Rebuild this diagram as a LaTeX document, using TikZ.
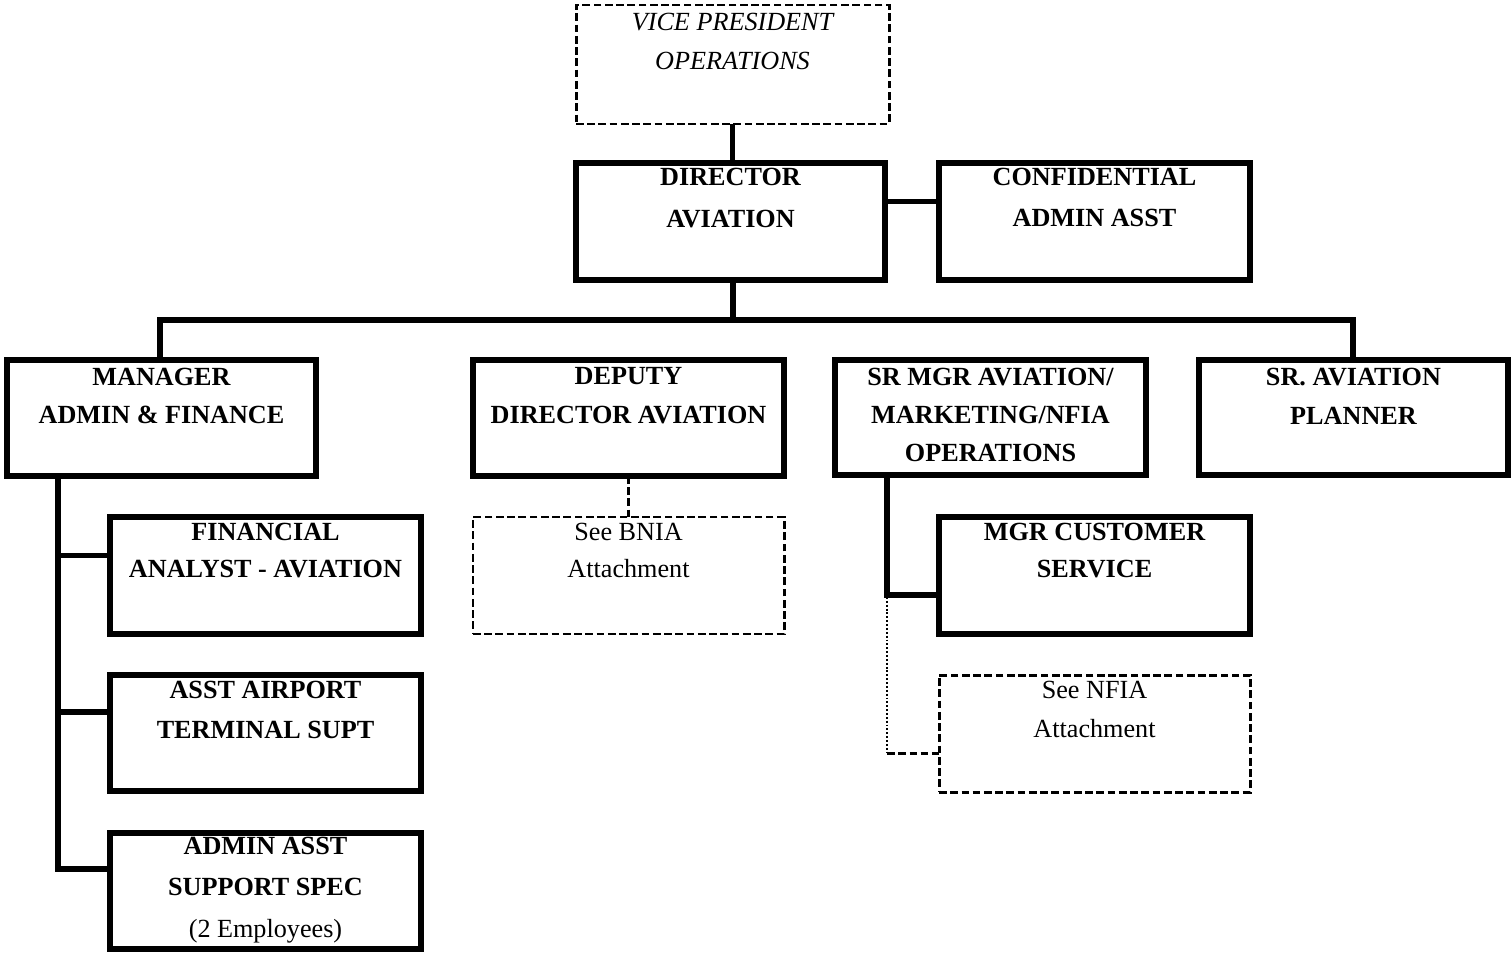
\documentclass[tikz,border=0pt]{standalone}
\usepackage{fontspec}
\setmainfont{Liberation Serif}
\usetikzlibrary{calc}

% one drawing unit = 0.02cm, y grows downwards
\newcommand\unitbox[6]{% name, x1, y1, x2, y2, style
  \node[#6, minimum width={(#4-#2)*0.02cm}, minimum height={(#5-#3)*0.02cm}]
    (#1) at ({(#2+#4)/2},{(#3+#5)/2}) {};}

\begin{document}
\begin{tikzpicture}[x=0.02cm, y=-0.02cm,
  solidbox/.style={draw, rectangle, line width=3.2pt, inner sep=0pt, outer sep=0pt},
  dashbox/.style={draw, rectangle, line width=1.7pt, dash pattern=on 4.4pt off 2pt,
                  inner sep=0pt, outer sep=0pt},
  conn/.style={line width=3pt, line join=miter},
  dashconn/.style={line width=1.7pt, dash pattern=on 4.4pt off 2pt},
  dotconn/.style={line width=1.1pt, dash pattern=on 1.1pt off 1.1pt},
  lbl/.style={inner sep=0pt, align=center, anchor=north},
  bold/.style={lbl, font=\bfseries\fontsize{14.9}{#1}\selectfont},
  plain/.style={lbl, font=\fontsize{14.9}{#1}\selectfont},
  slanted/.style={lbl, font=\itshape\fontsize{14.9}{#1}\selectfont},
]
\useasboundingbox (0,0) rectangle (1511,953);

% boxes
\unitbox{vp}{576}{5}{889}{124}{dashbox}
\unitbox{dir}{576}{163}{885}{280}{solidbox}
\unitbox{conf}{939}{163}{1250}{280}{solidbox}
\unitbox{mgr}{7}{360}{316}{476}{solidbox}
\unitbox{dep}{473}{360}{784}{476}{solidbox}
\unitbox{sr}{835}{360}{1146}{475}{solidbox}
\unitbox{plan}{1199}{360}{1508}{475}{solidbox}
\unitbox{fin}{110}{517}{421}{634}{solidbox}
\unitbox{asst}{110}{675}{421}{791}{solidbox}
\unitbox{adm}{110}{833}{421}{949}{solidbox}
\unitbox{bnia}{473}{517}{784}{634}{dashbox}
\unitbox{cust}{939}{517}{1250}{634}{solidbox}
\unitbox{nfia}{939}{675}{1250}{792}{dashbox}

% box texts
\node[slanted=22.7pt] (vp-t) at ($(vp.north)+(0,7.4)$) {VICE PRESIDENT\\OPERATIONS};
\node[bold=24.4pt] (dir-t) at ($(dir.north)+(0,4.4)$) {DIRECTOR\\AVIATION};
\node[bold=23.8pt] (conf-t) at ($(conf.north)+(0,4.4)$) {CONFIDENTIAL\\ADMIN ASST};
\node[bold=22.1pt] (mgr-t) at ($(mgr.north)+(0,7.4)$) {MANAGER\\ADMIN \& FINANCE};
\node[bold=22.1pt] (dep-t) at ($(dep.north)+(0,7.4)$) {DEPUTY\\DIRECTOR AVIATION};
\node[bold=21.6pt] (sr-t) at ($(sr.north)+(0,7.6)$) {SR MGR AVIATION/\\MARKETING/NFIA\\OPERATIONS};
\node[bold=22.7pt] (plan-t) at ($(plan.north)+(0,7.4)$) {SR. AVIATION\\PLANNER};
\node[bold=21.5pt] (fin-t) at ($(fin.north)+(0,5.4)$) {FINANCIAL\\ANALYST - AVIATION};
\node[bold=23.2pt] (asst-t) at ($(asst.north)+(0,5.4)$) {ASST AIRPORT\\TERMINAL SUPT};
\node[bold=23.8pt] (adm-t) at ($(adm.north)+(0,3.4)$) {ADMIN ASST\\SUPPORT SPEC\\{\mdseries (2 Employees)}};
\node[plain=21.5pt] (bnia-t) at ($(bnia.north)+(0,5.4)$) {See BNIA\\Attachment};
\node[bold=21.5pt] (cust-t) at ($(cust.north)+(0,5.4)$) {MGR CUSTOMER\\SERVICE};
\node[plain=22.7pt] (nfia-t) at ($(nfia.north)+(0,5.4)$) {See NFIA\\Attachment};

% junction points
\coordinate (bus) at (733,320);
\coordinate (mspine) at (58,476);
\coordinate (sspine) at (887,475);
\coordinate (nfiabend) at (887,753);

% connectors
\draw[conn] (vp.south) -- (vp.south |- dir.north);
\draw[conn] ($(dir.east)+(0,-20)$) -- ($(conf.west)+(0,-20)$);
\draw[conn] (dir.south -| bus) -- (bus);
\draw[conn] (mgr.north -| 160,0) |- (bus) -| (plan.north -| 1353,0);
\draw[conn] (dep.north -| 628,0) -- (dep.north -| 628,0 |- bus);
\draw[conn] (sr.north -| 990,0) -- (sr.north -| 990,0 |- bus);

\draw[conn] (mspine) |- ($(adm.west)+(0,-22)$);
\draw[conn] (mspine |- fin.west) ++(0,-20) -- ($(fin.west)+(0,-20)$);
\draw[conn] (mspine |- asst.west) ++(0,-21) -- ($(asst.west)+(0,-21)$);

\draw[conn] (sspine) |- ($(cust.west)+(0,19.5)$);
\draw[dotconn] ($(sspine)+(0,122)$) -- (nfiabend);
\draw[dashconn] (nfiabend) -- (nfiabend -| nfia.west);

\draw[dashconn] (dep.south) -- (bnia.north);
\end{tikzpicture}
\end{document}
